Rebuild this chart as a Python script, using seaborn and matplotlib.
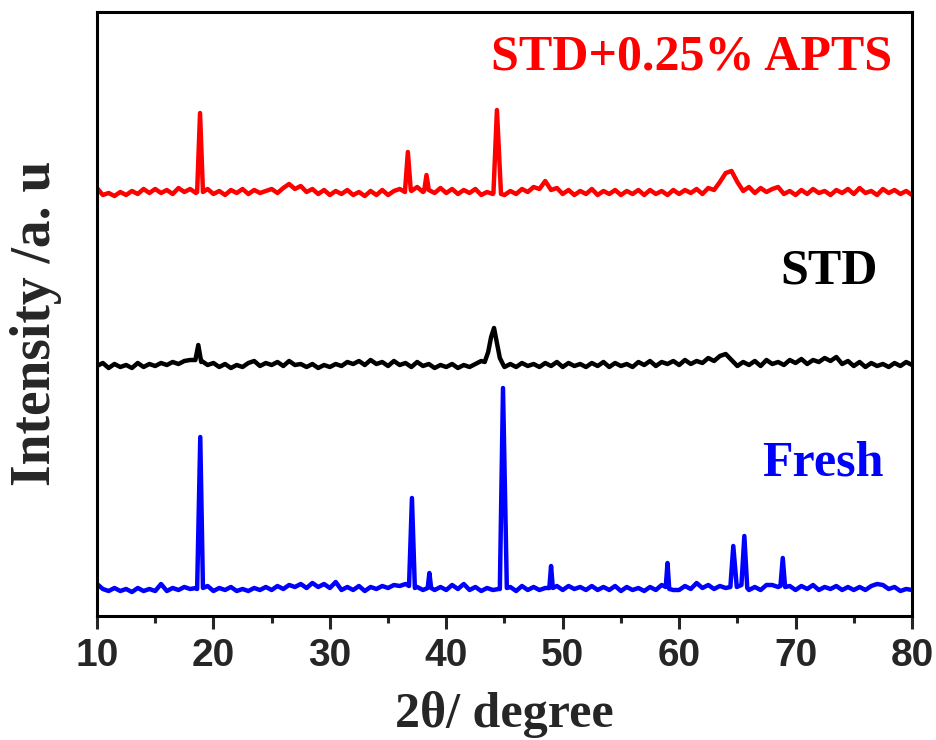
import numpy as np
import pandas as pd
import matplotlib
matplotlib.use('Agg')
import matplotlib.pyplot as plt
import seaborn as sns
from matplotlib.ticker import MultipleLocator

# background scan, one value every 0.5 degree from 10 to 80
two_theta = np.arange(10.0, 80.01, 0.5)

red_bg = [10, 3, 5, 2, 6, 3, 7, 4, 9, 5,
          9, 5, 8, 4, 10, 6, 9, 5, 6, 9,
          4, 7, 3, 8, 5, 9, 4, 8, 5, 7,
          9, 5, 10, 14, 9, 12, 6, 9, 4, 8,
          3, 7, 4, 8, 3, 6, 2, 7, 3, 8,
          3, 7, 9, 7, 7, 11, 6, 8, 5, 10,
          5, 9, 4, 8, 5, 9, 3, 6, 4, 5,
          3, 7, 4, 9, 6, 11, 9, 17, 8, 10,
          4, 8, 3, 7, 4, 9, 3, 7, 4, 8,
          3, 7, 4, 8, 3, 8, 4, 7, 3, 8,
          4, 8, 5, 9, 4, 10, 8, 16, 25, 27,
          16, 7, 11, 5, 10, 6, 9, 11, 4, 7,
          3, 8, 4, 9, 5, 7, 3, 8, 5, 9,
          4, 10, 5, 7, 3, 9, 5, 8, 4, 7,
          3]

black_bg = [4, 7, 2, 6, 3, 5, 2, 7, 3, 6,
            4, 7, 5, 8, 6, 9, 10, 12, 9, 5,
            7, 3, 6, 2, 5, 3, 7, 9, 4, 7,
            5, 8, 4, 9, 5, 6, 3, 6, 2, 5,
            3, 6, 4, 8, 6, 9, 5, 10, 6, 8,
            4, 9, 5, 7, 3, 8, 4, 6, 2, 5,
            3, 6, 2, 5, 3, 6, 9, 12, 20, 14,
            3, 6, 3, 7, 4, 6, 3, 7, 4, 8,
            3, 7, 4, 6, 3, 7, 4, 8, 3, 7,
            4, 6, 3, 8, 5, 9, 4, 8, 6, 9,
            5, 10, 6, 9, 7, 12, 9, 14, 16, 10,
            4, 8, 5, 9, 4, 10, 6, 8, 5, 10,
            7, 11, 6, 10, 8, 12, 9, 13, 6, 9,
            4, 8, 3, 7, 4, 6, 3, 7, 4, 8,
            5]

blue_bg = [9, 4, 2, 5, 2, 4, 1, 5, 2, 4,
           2, 9, 2, 5, 3, 6, 4, 5, 6, 7,
           2, 5, 3, 6, 2, 4, 2, 5, 3, 6,
           3, 7, 4, 8, 6, 9, 5, 10, 6, 9,
           5, 11, 3, 6, 3, 7, 2, 6, 4, 7,
           5, 8, 7, 9, 4, 6, 3, 7, 3, 6,
           3, 8, 4, 9, 3, 6, 2, 5, 3, 4,
           3, 6, 2, 7, 3, 6, 3, 5, 6, 7,
           3, 7, 4, 6, 3, 7, 3, 6, 3, 7,
           2, 6, 3, 5, 2, 6, 3, 8, 6, 3,
           3, 7, 4, 10, 5, 8, 4, 7, 5, 6,
           6, 7, 3, 6, 3, 8, 8, 6, 4, 7,
           3, 7, 4, 8, 3, 6, 4, 7, 3, 6,
           3, 6, 3, 7, 9, 8, 4, 6, 2, 4,
           3]

# sharp reflections: (2theta points, intensity points)
red_peaks = [([18.6, 18.85, 19.1], [6, 85, 6]),
             ([36.45, 36.7, 36.95], [6, 46, 8]),
             ([38.1, 38.3, 38.5], [7, 23, 8]),
             ([44.05, 44.35, 44.7], [5, 88, 4])]

black_peaks = [([18.45, 18.7, 18.95], [10, 25, 8]),
               ([43.3, 43.6, 43.85, 44.1, 44.3, 44.6, 44.9], [8, 18, 33, 42, 30, 12, 5])]

blue_peaks = [([18.6, 18.87, 19.1], [4, 156, 5]),
              ([36.8, 37.05, 37.3], [7, 95, 5]),
              ([38.4, 38.55, 38.7], [5, 20, 5]),
              ([44.6, 44.87, 45.2], [4, 205, 5]),
              ([48.85, 49.0, 49.15], [5, 27, 5]),
              ([58.85, 59.0, 59.15], [6, 30, 4]),
              ([64.4, 64.65, 64.95, 65.35, 65.6, 65.85], [6, 47, 6, 8, 57, 5]),
              ([68.7, 68.9, 69.1], [7, 35, 6])]

samples = ['STD+0.25% APTS', 'STD', 'Fresh']
offsets = [418, 246, 23]
colors = ['#FF0000', '#000000', '#0000FF']


def build_trace(name, bg, peaks, offset):
    x = np.array(two_theta)
    y = np.array(bg, dtype=float)
    keep = np.ones(len(x), dtype=bool)
    for px, py in peaks:
        keep &= ~((x > min(px)) & (x < max(px)))
    xs = list(x[keep])
    ys = list(y[keep])
    for px, py in peaks:
        xs += px
        ys += py
    df = pd.DataFrame({'two_theta': xs, 'intensity': np.array(ys) + offset})
    df['sample'] = name
    return df.sort_values('two_theta')


data = pd.concat([build_trace(samples[0], red_bg, red_peaks, offsets[0]),
                  build_trace(samples[1], black_bg, black_peaks, offsets[1]),
                  build_trace(samples[2], blue_bg, blue_peaks, offsets[2])],
                 ignore_index=True)

sns.set_style('white')
plt.rcParams['font.family'] = ['Liberation Serif', 'DejaVu Serif']

fig = plt.figure(figsize=(9.37, 7.40), dpi=100)
ax = fig.add_axes([97 / 937, 124 / 740, 815 / 937, 604 / 740])

sns.lineplot(data=data, x='two_theta', y='intensity', hue='sample',
             palette=dict(zip(samples, colors)), estimator=None, sort=False,
             linewidth=3.2, legend=False, ax=ax)

ax.set_xlim(10, 80)
ax.set_ylim(0, 604)
ax.set_yticks([])
ax.xaxis.set_major_locator(MultipleLocator(10))
ax.xaxis.set_minor_locator(MultipleLocator(5))
ax.tick_params(axis='x', which='major', direction='out', length=9, width=2.2,
               pad=7, bottom=True)
ax.tick_params(axis='x', which='minor', direction='out', length=5, width=2.2,
               bottom=True)
for lab in ax.get_xticklabels():
    lab.set_fontfamily('Liberation Sans')
    lab.set_fontweight('bold')
    lab.set_fontsize(28)

for sp in ax.spines.values():
    sp.set_linewidth(2.2)
    sp.set_color('black')

ax.set_xlabel('2θ/ degree', fontsize=36, fontweight='bold', labelpad=12)
ax.set_ylabel('Intensity /a. u', fontsize=40, fontweight='bold')
ax.yaxis.set_label_coords(-0.043, 0.485)

ax.text(78.3, 546, samples[0], color=colors[0], fontsize=36, fontweight='bold',
        ha='right', va='baseline')
ax.text(77.1, 333, samples[1], color=colors[1], fontsize=36, fontweight='bold',
        ha='right', va='baseline')
ax.text(77.6, 141, samples[2], color=colors[2], fontsize=36, fontweight='bold',
        ha='right', va='baseline')

fig.savefig('out.png', dpi=100)
